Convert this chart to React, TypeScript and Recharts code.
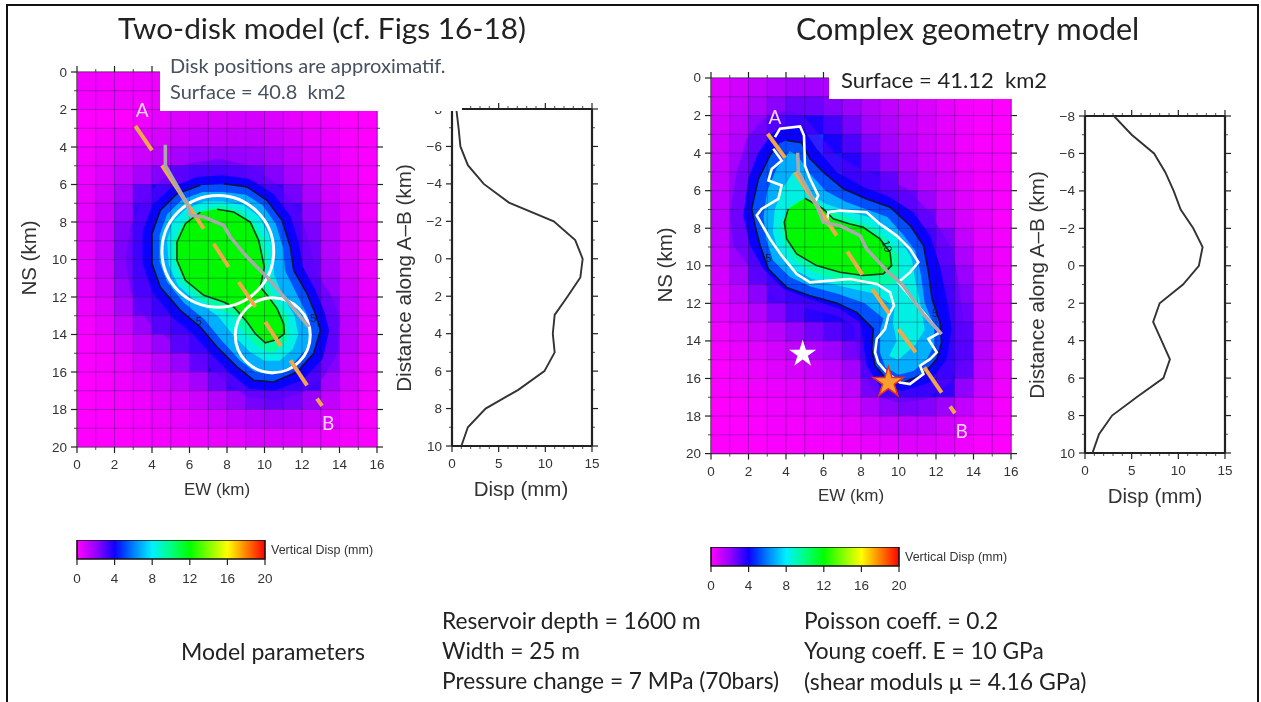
import React from 'react';
import { ScatterChart, Scatter, XAxis, YAxis, BarChart, Bar, Symbols } from 'recharts';

const SANS = '"Liberation Sans", Arial, sans-serif';
const SLIDE = 'Lato, "Open Sans", sans-serif';
const INK = '#333';

// colour scale, mm -> colour
const stopValues = [0, 1, 2, 3, 4, 5, 6, 8, 10, 12, 14, 16, 18, 20];
const stopColors = [
    [255, 0, 255], [204, 0, 255], [153, 0, 255], [85, 0, 255], [16, 0, 255], [0, 64, 255], [0, 128, 255],
    [0, 240, 255], [0, 255, 128], [0, 255, 0], [128, 255, 0], [255, 255, 0], [255, 128, 0], [255, 0, 0],
];

const mapXTicks = [0, 1, 2, 3, 4, 5, 6, 7, 8, 9, 10, 11, 12, 13, 14, 15, 16];
const mapYTicks = [0, 1, 2, 3, 4, 5, 6, 7, 8, 9, 10, 11, 12, 13, 14, 15, 16, 17, 18, 19, 20];
const profXTicks = [0, 1, 2, 3, 4, 5, 6, 7, 8, 9, 10, 11, 12, 13, 14, 15];
const profYTicks = [-8, -7, -6, -5, -4, -3, -2, -1, 0, 1, 2, 3, 4, 5, 6, 7, 8, 9, 10];
const barTicks = [0, 4, 8, 12, 16, 20];

// km along A-B, used by both profiles
const profileKm = [-8, -7, -6, -5, -4, -3, -2, -1, 0, 1, 2, 3, 4, 5, 6, 7, 8, 9, 10];
const leftProfile = [0.46, 0.7, 0.9, 1.7, 3.4, 6.1, 10.9, 13.2, 14, 13.75, 12.4, 11, 10.8, 11, 9.9, 7.1, 3.6, 1.7, 1];
const rightProfile = [3.1, 5, 7.4, 8.6, 9.5, 10.25, 11.6, 12.6, 12.2, 10.5, 8, 7.3, 8.2, 9.1, 8.4, 5.6, 2.9, 1.5, 0.8];

// 1 km cells of the two maps, rows from NS=0 down
const leftCells = [
    [.2, .2, .2, .3, .3, .4, .4, .4, .4, .4, .3, .2, .1, 0, 0, 0],
    [.2, .2, .3, .3, .4, .5, .5, .5, .5, .5, .4, .3, .2, .1, 0, 0],
    [0, 0, 0, .3, .5, .7, .8, .8, .8, .8, .7, .5, .3, .2, 0, 0],
    [0, .2, .4, .6, .8, 1, 1.2, 1.2, 1.2, 1.2, 1, .8, .5, .3, .1, 0],
    [.2, .4, .7, 1, 1.3, 1.7, 2, 2, 2, 1.9, 1.6, 1.2, .8, .5, .2, .1],
    [.3, .6, 1.1, 1.7, 2.3, 2.9, 3.3, 3.3, 3.1, 2.8, 2.3, 1.7, 1.1, .7, .3, .1],
    [.4, .8, 1.6, 2.8, 3.8, 4.2, 4.5, 4.5, 4.3, 4, 3.5, 2.5, 1.6, .9, .5, .2],
    [.5, 1, 2, 3.3, 4, 5, 5, 5, 5, 4.5, 4, 3.3, 2.1, 1.2, .6, .2],
    [.5, 1.1, 2.3, 3.7, 4, 5, 5, 5, 5, 5, 4, 3.6, 2.4, 1.4, .6, .3],
    [.5, 1.1, 2.4, 3.8, 4, 5, 5, 5, 5, 5, 4, 3.8, 2.6, 1.5, .7, .3],
    [.5, 1, 2.3, 3.7, 4, 5, 5, 5, 5, 5, 4.5, 3.8, 2.8, 1.7, .8, .3],
    [.4, .9, 2, 3.4, 4, 5, 5, 5, 5, 5, 4.5, 4, 3.2, 2, 1, .4],
    [.3, .7, 1.6, 2.8, 3.9, 4.2, 5, 5, 5, 5, 5, 4, 3.7, 2.4, 1.2, .5],
    [.2, .5, 1.1, 2, 3, 3.8, 4, 5, 5, 5, 5, 5, 4, 2.6, 1.3, .5],
    [.1, .3, .7, 1.3, 2, 2.9, 3.8, 4, 5, 5, 5, 5, 4, 2.6, 1.3, .5],
    [.1, .2, .4, .8, 1.3, 2, 2.8, 3.7, 4, 5, 5, 5, 3.9, 2.3, 1.1, .4],
    [0, .1, .3, .5, .8, 1.2, 1.8, 2.6, 3.3, 3.8, 4, 4, 3.3, 1.8, .9, .3],
    [0, .1, .2, .3, .5, .7, 1, 1.5, 2, 2.5, 2.7, 2.5, 2, 1.2, .6, .2],
    [0, 0, .1, .2, .3, .4, .6, .8, 1.1, 1.3, 1.4, 1.3, 1, .7, .4, .1],
    [0, 0, 0, .1, .2, .2, .3, .4, .5, .7, .7, .7, .5, .3, .2, .1],
];
const rightCells = [
    [.6, .9, 1.2, 1.5, 1.7, 1.7, 1.6, 1.4, 1.1, 1, .7, .5, .3, .1, .1, 0],
    [.7, 1.1, 1.6, 2.2, 2.6, 2.6, 2.3, 1.9, 1.5, 1.2, .9, .7, .4, .2, .1, 0],
    [.8, 1.3, 2.1, 3.2, 3.9, 3.8, 3.2, 2.5, 1.8, 1.5, 1.1, .8, .5, .3, .1, 0],
    [.9, 1.5, 2.6, 3.8, 5, 5, 3.9, 3.1, 2.3, 1.7, 1.3, .9, .6, .3, .1, 0],
    [1, 1.7, 2.9, 4, 5, 5, 4.4, 3.7, 2.8, 2.1, 1.5, 1, .7, .4, .2, .1],
    [1.1, 1.9, 3, 4, 5, 5, 5, 4, 3.6, 2.8, 1.9, 1.3, .9, .5, .2, .1],
    [1.2, 2, 3.2, 4.5, 5, 5, 5, 4.6, 3.9, 3.5, 2.8, 1.9, 1.1, .6, .3, .1],
    [1.3, 2.2, 3.5, 5, 5, 5, 5, 5, 4.5, 3.9, 3.5, 2.7, 1.5, .8, .4, .1],
    [1.2, 2.2, 3.5, 5, 5, 5, 5, 5, 5, 5, 4.2, 3.6, 2.4, 1.2, .5, .2],
    [1.1, 2, 3.3, 4.5, 5, 5, 5, 5, 5, 5, 4.6, 3.8, 2.8, 1.6, .7, .3],
    [.9, 1.7, 2.9, 3.9, 4.2, 5, 5, 5, 5, 5, 5, 4, 3.3, 2, .9, .3],
    [.7, 1.3, 2.2, 3.2, 3.9, 4.1, 4.3, 4.5, 5, 5, 5, 4.1, 3.6, 2.3, 1.1, .4],
    [.5, .9, 1.5, 2.3, 3, 3.6, 3.8, 3.8, 4.1, 5, 5, 4.5, 3.9, 2.6, 1.2, .4],
    [.3, .6, 1, 1.4, 2, 2.5, 3, 3.4, 3.8, 5, 5, 5, 4, 2.9, 1.3, .5],
    [.2, .4, .6, .9, 1.2, 1.6, 1.9, 2.5, 3.7, 5, 5, 5, 4, 3, 1.4, .5],
    [.1, .3, .4, .6, .8, 1, 1.3, 1.8, 3.2, 5, 5, 5, 3.9, 2.8, 1.3, .4],
    [.1, .2, .3, .4, .5, .7, .9, 1.3, 2.5, 3.8, 4.1, 4, 3.5, 2.1, 1, .3],
    [0, .1, .2, .3, .4, .5, .6, .9, 1.5, 2.1, 2.4, 2.3, 1.9, 1.2, .6, .2],
    [0, 0, .1, .2, .2, .3, .4, .5, .8, 1.1, 1.2, 1.2, .9, .6, .3, .1],
    [0, 0, 0, .1, .1, .2, .2, .3, .4, .5, .6, .6, .5, .3, .1, 0],
];

// contour outlines in km (EW, NS)
const leftBand3 = [[7.64, 4.62], [9.42, 5.07], [10.84, 6.13], [11.91, 7.56], [12.44, 9.33], [12.8, 10.76], [13.51, 11.82], [14.04, 13.24], [13.87, 15.02], [13.16, 16.27], [11.91, 17.16], [10.49, 17.51], [9.07, 17.33], [7.82, 16.44], [6.58, 15.38], [5.16, 14.49], [3.73, 13.24], [2.84, 11.64], [2.58, 10.04], [2.84, 8.27], [3.38, 7.02], [4.44, 5.78], [5.87, 4.89]];
const leftBand4 = [[7.8, 5.5], [9.2, 5.7], [10.5, 6.5], [11.4, 7.7], [11.85, 9.2], [12.05, 10.4], [12.7, 11.6], [13.2, 12.8], [13.45, 13.8], [13.1, 15.3], [12, 16.45], [10.5, 17], [9.2, 16.9], [8.2, 16.1], [7.1, 15], [6.2, 14], [5.1, 13.1], [4, 11.7], [3.5, 10.2], [3.5, 8.5], [4, 7.1], [5.1, 6.1], [6.4, 5.6]];
const leftBand5 = [[7.82, 5.96], [9.07, 6.13], [10.13, 6.84], [10.93, 7.91], [11.38, 9.33], [11.56, 10.58], [12.27, 11.82], [12.71, 12.89], [12.98, 13.78], [12.62, 15.02], [11.73, 16], [10.49, 16.53], [9.42, 16.44], [8.53, 15.73], [7.47, 14.67], [6.58, 13.6], [5.51, 12.71], [4.44, 11.47], [4, 10.22], [4, 8.62], [4.44, 7.38], [5.33, 6.49], [6.58, 6.04]];
const leftBand6 = [[7.8, 6.4], [9, 6.55], [9.9, 7.1], [10.6, 8.1], [11, 9.4], [11.1, 10.6], [11.8, 12], [12.3, 13], [12.5, 13.8], [12.2, 14.8], [11.4, 15.7], [10.4, 16.15], [9.5, 16], [8.7, 15.4], [7.7, 14.3], [6.8, 13.2], [5.7, 12.3], [4.8, 11.2], [4.4, 10.1], [4.4, 8.7], [4.8, 7.6], [5.6, 6.8], [6.7, 6.4]];
const leftBand7 = [[7.8, 6.9], [8.9, 7.1], [9.7, 7.7], [10.2, 8.6], [10.5, 9.6], [10.5, 10.8], [11, 12], [11.6, 13], [11.8, 14], [11.5, 14.8], [10.8, 15.4], [10, 15.4], [9.2, 14.9], [8.3, 14], [7.5, 13], [6.3, 12.2], [5.4, 11.4], [4.9, 10.3], [4.8, 9], [5.1, 8], [5.8, 7.3], [6.8, 6.9]];
const leftBand8 = [[7.7, 7.1], [8.7, 7.4], [9.5, 8.1], [10, 9], [10.2, 10], [10, 11], [10.5, 12], [11.2, 13], [11.3, 14], [11, 14.6], [10.4, 15], [9.7, 14.7], [9, 14], [8.3, 13], [7.5, 12.6], [6.4, 12], [5.6, 11.2], [5.2, 10.2], [5.1, 9.1], [5.5, 8.2], [6.2, 7.5]];
const leftBand10 = [[7.47, 7.32], [8.36, 7.47], [9.24, 8], [9.69, 8.98], [9.99, 10.4], [9.78, 11.47], [10.22, 12], [10.67, 12.62], [11.02, 13.42], [11.06, 13.96], [10.67, 14.27], [10.04, 14.44], [9.51, 13.96], [9.07, 13.33], [8.36, 12.53], [7.82, 12.27], [6.76, 11.91], [5.78, 11.11], [5.33, 10.04], [5.33, 9.07], [5.78, 8.09], [6.58, 7.47]];

const rightBand3 = [[4.04, 1.72], [4.92, 1.99], [5.81, 3.06], [6.7, 4.12], [7.95, 4.84], [9.19, 5.28], [10.44, 5.9], [11.68, 7.15], [12.92, 9.28], [13.28, 11.41], [13.55, 13.55], [13.46, 14.97], [12.75, 16.21], [11.5, 17.1], [9.9, 17.28], [8.84, 16.92], [8.12, 15.68], [7.77, 14.61], [7.59, 13.19], [6.7, 12.66], [5.28, 12.3], [3.5, 11.77], [2.26, 10.35], [1.19, 8.92], [1.01, 7.15], [1.37, 5.01], [1.9, 3.24], [2.79, 2.17]];
const rightBand4 = [[4.12, 2.61], [4.92, 2.7], [5.63, 3.77], [6.7, 5.01], [8.12, 5.81], [9.55, 6.35], [10.79, 7.15], [11.68, 8.39], [12.21, 9.99], [12.57, 11.77], [12.84, 13.37], [12.57, 14.97], [11.68, 16.21], [10.26, 16.66], [9.01, 16.46], [8.3, 15.32], [8.12, 14.08], [7.95, 13.01], [6.88, 12.3], [5.28, 11.77], [3.86, 11.24], [2.79, 10.17], [2.08, 8.92], [1.72, 7.32], [1.99, 5.37], [2.53, 3.95], [3.33, 2.88]];
const rightBand5 = [[4.04, 3.32], [4.84, 3.45], [5.28, 4.3], [5.99, 5.01], [7.06, 5.9], [8.3, 6.44], [9.55, 6.88], [10.62, 7.86], [11.33, 8.92], [11.6, 10.35], [11.79, 11.77], [12.21, 13.01], [12.3, 14.08], [12.04, 14.97], [11.33, 15.77], [10.26, 16.21], [9.37, 16.04], [8.75, 15.32], [8.57, 14.44], [8.66, 13.37], [7.77, 12.48], [6.7, 11.98], [5.28, 11.59], [4.04, 11.15], [3.06, 10.17], [2.62, 8.92], [2.35, 7.86], [2.17, 6.97], [2.53, 5.37], [3.15, 4.12], [3.59, 3.5]];
const rightBand6 = [[4.2, 3.9], [4.6, 4.1], [5.2, 5], [6.1, 6], [7.2, 6.6], [8.3, 7], [9.4, 7.4], [10.2, 8.3], [10.9, 9.2], [11.2, 10.5], [11.4, 12], [11.9, 13.2], [11.9, 14.2], [11.5, 15], [10.8, 15.6], [10, 15.8], [9.3, 15.4], [9, 14.6], [9, 13.5], [9.2, 12.8], [8.2, 12], [6.8, 11.5], [5.3, 11.1], [4.2, 10.6], [3.3, 9.7], [2.95, 8.6], [2.8, 7.4], [3, 6], [3.5, 4.8]];
const rightBand7 = [[4.4, 5], [5, 6], [6.1, 6.7], [7.3, 7.1], [8.4, 7.4], [9.5, 8], [10.2, 8.8], [10.7, 9.6], [10.9, 10.8], [11.2, 12.2], [11.4, 13.4], [10.9, 14.2], [10, 15], [9.5, 14.8], [9.9, 14], [9.7, 13], [9.8, 12.2], [8.8, 11.5], [7, 11.1], [5.4, 10.7], [4.4, 10.2], [3.6, 9.3], [3.3, 8.2], [3.4, 7], [3.8, 5.9]];
const rightBand8 = [[5, 6.4], [6, 7], [7.5, 7.5], [8.7, 8], [9.5, 8.7], [10, 9.4], [10.1, 10.2], [9.7, 11], [8.6, 11], [7, 10.8], [5.4, 10.3], [4.5, 9.7], [3.9, 8.8], [3.7, 7.8], [4.2, 6.8]];
const rightBand10 = [[5.01, 6.4], [5.99, 6.97], [6.52, 7.5], [7.41, 7.77], [8.12, 7.95], [9.01, 8.57], [9.55, 9.28], [9.63, 9.99], [9.19, 10.43], [8.12, 10.52], [6.88, 10.34], [5.63, 9.99], [4.57, 9.37], [4.04, 8.57], [3.91, 7.68], [4.12, 6.97]];

// white outline of the complex source
const rightSource = [[3.41, 3.15], [3.68, 2.7], [4.75, 2.58], [4.96, 3.06], [5.01, 4.66], [5.28, 5.37], [5.72, 6.26], [5.55, 6.61], [5.9, 7.15], [6.17, 7.68], [6.26, 7.15], [6.88, 7.06], [8.3, 7.15], [9.01, 7.77], [9.9, 8.39], [10.61, 9.1], [11.06, 9.81], [10.61, 10.35], [9.99, 10.88], [12.21, 13.55], [11.59, 13.9], [12.04, 14.61], [11.68, 14.97], [11.15, 15.32], [11.33, 15.77], [10.61, 16.3], [10.08, 16.21], [9.37, 15.68], [8.92, 15.15], [8.75, 14.61], [8.84, 13.9], [9.28, 13.37], [9.46, 12.66], [9.76, 12.12], [9.55, 11.41], [8.84, 10.97], [7.41, 10.7], [6.35, 10.79], [5.28, 10.88], [4.57, 10.44], [3.77, 9.46], [3.15, 8.57], [2.44, 7.32], [2.7, 6.97], [3.59, 6.44], [3.77, 5.72], [3.06, 5.46], [3.24, 4.84], [3.77, 4.39], [3.32, 3.77]];

// the two disks: EW, NS, radius in km
const leftDisks = [[7.51, 9.56, 2.98], [10.44, 14.04, 2]];

const leftProfileTrace = [[3.11, 2.88], [4, 4.18], [4.53, 4.98], [6.76, 8.36], [7.29, 9.16], [8.09, 10.4], [8.62, 11.2], [9.51, 12.53], [10.04, 13.33], [10.88, 14.63], [11.38, 15.38], [12.27, 16.71], [12.8, 17.42], [13.07, 17.81]];
const rightProfileTrace = [[3.02, 2.97], [3.95, 4.25], [4.48, 5.01], [6.7, 8.39], [7.27, 9.24], [8.07, 10.47], [8.6, 11.24], [9.49, 12.53], [9.99, 13.37], [10.92, 14.61], [11.38, 15.41], [12.3, 16.75], [12.75, 17.49], [13.01, 17.85]];
const leftFault = [[4.71, 3.88], [4.71, 4.98], [5.87, 7.02], [6.04, 7.64], [6.76, 7.73], [7.82, 8.18], [8.18, 8.8], [9.07, 9.87], [10.13, 10.93], [11.2, 12.18], [12.36, 13.6]];
const rightFault = [[4.62, 3.98], [4.66, 5.01], [5.64, 6.79], [5.99, 7.68], [6.88, 7.86], [7.95, 8.39], [8.3, 9.1], [9.37, 10.26], [10.26, 11.06], [11.32, 12.57], [12.3, 13.64]];

const leftMarks = [{ x: 3.47, y: 2.04, text: 'A' }, { x: 13.39, y: 18.72, text: 'B' }];
const rightMarks = [{ x: 3.41, y: 2.08, text: 'A' }, { x: 13.37, y: 18.79, text: 'B' }];
const leftContourLabels = [{ x: 6.5, y: 13.3, text: '5', angle: 0 }, { x: 12.6, y: 13.1, text: '5', angle: 0 }];
const rightContourLabels = [{ x: 3.06, y: 9.6, text: '5', angle: 0 }, { x: 11.95, y: 12.5, text: '5', angle: 0 }, { x: 9.4, y: 8.95, text: '10', angle: 75 }];
const whiteStar = [{ x: 4.89, y: 14.7 }];
const orangeStar = [{ x: 9.46, y: 16.21 }];

const mix = (v: number) => {
    let i = 0;
    while (i < stopValues.length - 2 && v > stopValues[i + 1]) i++;
    const t = (v - stopValues[i]) / (stopValues[i + 1] - stopValues[i]);
    const c = stopColors[i].map((a, k) => Math.round(a + (stopColors[i + 1][k] - a) * t));
    return `rgb(${c[0]},${c[1]},${c[2]})`;
};

const pts = (a: number[][]) => a.map(([x, y]) => ({ x, y }));
const noDot = () => <g />;

const makeTick = (side: string, majorStep: number, showLabel: boolean, gap: number) => (p: any) => {
    const { x, y, payload } = p;
    const v = payload.value;
    const major = v % majorStep === 0;
    const len = major ? 6 : 3;
    const label = String(v).replace('-', '\u2212');
    const txt = { fontFamily: SANS, fontSize: 13.5, fill: INK };
    if (side === 'left') return (
        <g>
            <line x1={x} x2={x - len} y1={y} y2={y} stroke="#222" strokeWidth={major ? 1.2 : 0.8} />
            {major && showLabel && <text x={x - gap} y={y + 4.5} textAnchor="end" {...txt}>{label}</text>}
        </g>
    );
    if (side === 'right') return <line x1={x} x2={x + len} y1={y} y2={y} stroke="#222" strokeWidth={major ? 1.2 : 0.8} />;
    if (side === 'top') return <line x1={x} x2={x} y1={y} y2={y - len} stroke="#222" strokeWidth={major ? 1.2 : 0.8} />;
    return (
        <g>
            <line x1={x} x2={x} y1={y} y2={y + len} stroke="#222" strokeWidth={major ? 1.2 : 0.8} />
            {major && showLabel && <text x={x} y={y + gap} textAnchor="middle" {...txt}>{label}</text>}
        </g>
    );
};

const frameAxes = (xDomain: number[], yDomain: number[], xTicks: number[], yTicks: number[], xMajor: number, yMajor: number, lineW: number) => {
    const line = { stroke: '#222', strokeWidth: lineW };
    return [
        <XAxis key="b" xAxisId={0} dataKey="x" type="number" domain={xDomain} ticks={xTicks} interval={0} height={1} tickSize={0} tickMargin={0}
            tickLine={false} axisLine={line} tick={makeTick('bottom', xMajor, true, 22)} allowDataOverflow />,
        <XAxis key="t" xAxisId="top" orientation="top" dataKey="x" type="number" domain={xDomain} ticks={xTicks} interval={0} height={1} tickSize={0} tickMargin={0}
            tickLine={false} axisLine={line} tick={makeTick('top', xMajor, false, 0)} allowDataOverflow />,
        <YAxis key="l" yAxisId={0} dataKey="y" type="number" reversed domain={yDomain} ticks={yTicks} interval={0} width={1} tickSize={0} tickMargin={0}
            tickLine={false} axisLine={line} tick={makeTick('left', yMajor, true, 10)} allowDataOverflow />,
        <YAxis key="r" yAxisId="right" orientation="right" dataKey="y" type="number" reversed domain={yDomain} ticks={yTicks} interval={0} width={1} tickSize={0} tickMargin={0}
            tickLine={false} axisLine={line} tick={makeTick('right', yMajor, false, 0)} allowDataOverflow />,
    ];
};

const Outline = (data: number[][], key: string, style: any, joint: any = 'linear') => (
    <Scatter key={key} data={pts(data)} line={style} lineJointType={joint} shape={noDot} isAnimationActive={false} />
);

const MapPanel = ({ left, top, height, cells, bands, trace, fault, marks, contourLabels, children }: any) => {
    const cellData = cells.flatMap((row: number[], j: number) => row.map((v, i) => ({ x: i + 0.5, y: j + 0.5, v })));
    const cellPx = 300 / 16;
    return (
        <div style={{ position: 'absolute', left: left - 40, top: top - 20 }}>
            <ScatterChart width={370} height={height + 50} margin={{ left: 39, top: 19, right: 29, bottom: 29 }}>
                {frameAxes([0, 16], [0, 20], mapXTicks, mapYTicks, 2, 2, 1.2)}
                <Scatter data={cellData} isAnimationActive={false} shape={(p: any) => (
                    <rect x={p.cx - cellPx / 2 - 0.3} y={p.cy - cellPx / 2 - 0.3} width={cellPx + 0.6} height={cellPx + 0.6} fill={mix(p.payload.v)} />
                )} />
                {bands.map((b: any, i: number) => Outline(b.data, `band${i}`, { fill: b.fill, fillOpacity: b.opacity ?? 1, stroke: b.stroke ?? 'none', strokeWidth: 1.6 }, 'cardinalClosed'))}
                {mapXTicks.map((t) => Outline([[t, 0], [t, 20]], `gx${t}`, { stroke: '#101040', strokeOpacity: 0.32, strokeWidth: 1 }))}
                {mapYTicks.map((t) => Outline([[0, t], [16, t]], `gy${t}`, { stroke: '#101040', strokeOpacity: 0.32, strokeWidth: 1 }))}
                {children}
                {[0, 2, 4, 6, 8, 10, 12].map((k) => Outline(trace.slice(k, k + 2), `tr${k}`, { stroke: '#f0a848', strokeWidth: 4 }))}
                {Outline(fault, 'fault', { stroke: '#a9a9a9', strokeWidth: 3.5, strokeLinejoin: 'round' })}
                <Scatter data={contourLabels} isAnimationActive={false} shape={(p: any) => (
                    <text x={p.cx} y={p.cy + 4} textAnchor="middle" fontFamily={SANS} fontSize={11} fill="#102030"
                        transform={`rotate(${p.payload.angle} ${p.cx} ${p.cy})`}>{p.payload.text}</text>
                )} />
                <Scatter data={marks} isAnimationActive={false} shape={(p: any) => (
                    <text x={p.cx} y={p.cy + 7} textAnchor="middle" fontFamily={SLIDE} fontSize={19} fill="#ffd6ff">{p.payload.text}</text>
                )} />
            </ScatterChart>
        </div>
    );
};

const ProfilePanel = ({ left, top, values }: any) => {
    const data = profileKm.map((km, i) => [values[i], km]);
    return (
        <div style={{ position: 'absolute', left: left - 40, top: top - 20 }}>
            <ScatterChart width={210} height={387} margin={{ left: 39, top: 19, right: 29, bottom: 29 }}>
                {frameAxes([0, 15], [-8, 10], profXTicks, profYTicks, 5, 2, 2.2)}
                {Outline(data, 'profile', { stroke: '#333', strokeWidth: 1.9 })}
            </ScatterChart>
        </div>
    );
};

const ColorBar = ({ left, top, id }: any) => (
    <div style={{ position: 'absolute', left: left - 10, top: top }}>
        <BarChart width={215} height={50} layout="vertical" data={[{ name: 'disp', v: 20 }]} barCategoryGap={0}
            margin={{ left: 10, right: 17, top: 0, bottom: 30 }}>
            <defs>
                <linearGradient id={id} x1="0" y1="0" x2="1" y2="0">
                    {stopValues.map((v) => <stop key={v} offset={`${v * 5}%`} stopColor={mix(v)} />)}
                </linearGradient>
            </defs>
            <XAxis type="number" domain={[0, 20]} ticks={barTicks} interval={0} height={1} tickSize={0} tickMargin={0} tickLine={false} axisLine={false}
                tick={makeTick('bottom', 4, true, 24)} />
            <YAxis type="category" dataKey="name" hide />
            <Bar dataKey="v" fill={`url(#${id})`} stroke="#111" strokeWidth={1.6} isAnimationActive={false} />
        </BarChart>
    </div>
);

const T = ({ x, y, size, color = '#222', font = SLIDE, children, rotate, center }: any) => (
    <div style={{
        position: 'absolute', left: x, top: y, fontFamily: font, fontSize: size, color, whiteSpace: 'pre', lineHeight: 1,
        transform: `${center ? 'translate(-50%,-50%)' : 'translateY(-50%)'}${rotate ? ` rotate(${rotate}deg)` : ''}`,
    }}>{children}</div>
);

const leftBands = [
    { data: leftBand3, fill: '#5a00ff', opacity: 0.55 }, { data: leftBand4, fill: '#0a00ff' }, { data: leftBand5, fill: '#0050ff', stroke: '#0a1440' },
    { data: leftBand6, fill: '#00b0ff' }, { data: leftBand7, fill: '#00f0e4' }, { data: leftBand8, fill: '#00ffa0' }, { data: leftBand10, fill: '#00f800', stroke: '#123a20' },
];
const rightBands = [
    { data: rightBand3, fill: '#5a00ff', opacity: 0.55 }, { data: rightBand4, fill: '#0a00ff' }, { data: rightBand5, fill: '#0050ff', stroke: '#0a1440' },
    { data: rightBand6, fill: '#00b0ff' }, { data: rightBand7, fill: '#00f0e4' }, { data: rightBand8, fill: '#00ffa0' }, { data: rightBand10, fill: '#00f800', stroke: '#123a20' },
];

export default function App() {
    return (
        <div style={{ position: 'absolute', left: 0, top: 0, width: 1261, height: 702, background: '#fff', overflow: 'hidden' }}>
            <div style={{ position: 'absolute', inset: 0, filter: 'blur(0.65px)' }}>
                <MapPanel left={77} top={71.7} height={375} cells={leftCells} bands={leftBands} trace={leftProfileTrace} fault={leftFault}
                    marks={leftMarks} contourLabels={leftContourLabels}>
                    {leftDisks.map((d, i) => (
                        <Scatter key={i} data={[{ x: d[0], y: d[1] }]} isAnimationActive={false} shape={(p: any) => (
                            <circle cx={p.cx} cy={p.cy} r={d[2] * 18.75} fill="none" stroke="#fff" strokeWidth={3} />
                        )} />
                    ))}
                </MapPanel>
                <MapPanel left={711} top={77.7} height={375.6} cells={rightCells} bands={rightBands} trace={rightProfileTrace} fault={rightFault}
                    marks={rightMarks} contourLabels={rightContourLabels}>
                    {Outline(rightSource, 'source', { fill: 'none', stroke: '#fff', strokeWidth: 2.6 }, 'catmullRomClosed')}
                    <Scatter data={whiteStar} isAnimationActive={false} shape={(p: any) => <Symbols type="star" size={230} cx={p.cx} cy={p.cy} fill="#fff" />} />
                    <Scatter data={orangeStar} isAnimationActive={false} shape={(p: any) => <Symbols type="star" size={290} cx={p.cx} cy={p.cy} fill="#f5a030" stroke="#e8301c" strokeWidth={1.5} />} />
                </MapPanel>
                <ProfilePanel left={451.7} top={109} values={leftProfile} />
                <ProfilePanel left={1085} top={115.7} values={rightProfile} />
                <ColorBar left={76.7} top={540} id="barLeft" />
                <ColorBar left={710.7} top={546.7} id="barRight" />

                {/* boxes pasted over the maps in the slide */}
                <div style={{ position: 'absolute', left: 159.5, top: 50, width: 302, height: 61, background: '#fff' }} />
                <div style={{ position: 'absolute', left: 829, top: 55, width: 190, height: 44.3, background: '#fff' }} />

                <T x={118} y={28} size={29.8}>Two-disk model (cf. Figs 16-18)</T>
                <T x={796} y={28} size={30.5}>Complex geometry model</T>
                <T x={170} y={65} size={20} color="#47505e">Disk positions are approximatif.</T>
                <T x={170} y={91} size={20} color="#47505e">Surface = 40.8  km2</T>
                <T x={841} y={80} size={22}>Surface = 41.12  km2</T>

                <T x={29} y={258} size={20.5} font={SANS} color={INK} rotate={-90} center>NS (km)</T>
                <T x={217} y={489} size={17} font={SANS} color={INK} center>EW (km)</T>
                <T x={665} y={265} size={20.5} font={SANS} color={INK} rotate={-90} center>NS (km)</T>
                <T x={851} y={495} size={17} font={SANS} color={INK} center>EW (km)</T>
                <T x={404} y={278} size={20.7} font={SANS} color={INK} rotate={-90} center>Distance along A–B (km)</T>
                <T x={521} y={489} size={20.5} font={SANS} color={INK} center>Disp (mm)</T>
                <T x={1037} y={285} size={20.7} font={SANS} color={INK} rotate={-90} center>Distance along A–B (km)</T>
                <T x={1155} y={496} size={20.5} font={SANS} color={INK} center>Disp (mm)</T>
                <T x={271} y={550} size={12.5} font={SANS} color={INK}>Vertical Disp (mm)</T>
                <T x={905} y={557} size={12.5} font={SANS} color={INK}>Vertical Disp (mm)</T>

                <T x={181} y={651} size={23}>Model parameters</T>
                <T x={442} y={621} size={22.7}>Reservoir depth = 1600 m</T>
                <T x={442} y={651} size={22.7}>Width = 25 m</T>
                <T x={442} y={681} size={22.7}>Pressure change = 7 MPa (70bars)</T>
                <T x={804} y={621} size={22.7}>Poisson coeff. = 0.2</T>
                <T x={804} y={651} size={22.7}>Young coeff. E = 10 GPa</T>
                <T x={804} y={681} size={23}>(shear moduls μ = 4.16 GPa)</T>
            </div>
            {/* slide frame, open at the bottom */}
            <div style={{ position: 'absolute', left: 6, top: 4, width: 1249, height: 720, border: '2.5px solid #111' }} />
        </div>
    );
}
